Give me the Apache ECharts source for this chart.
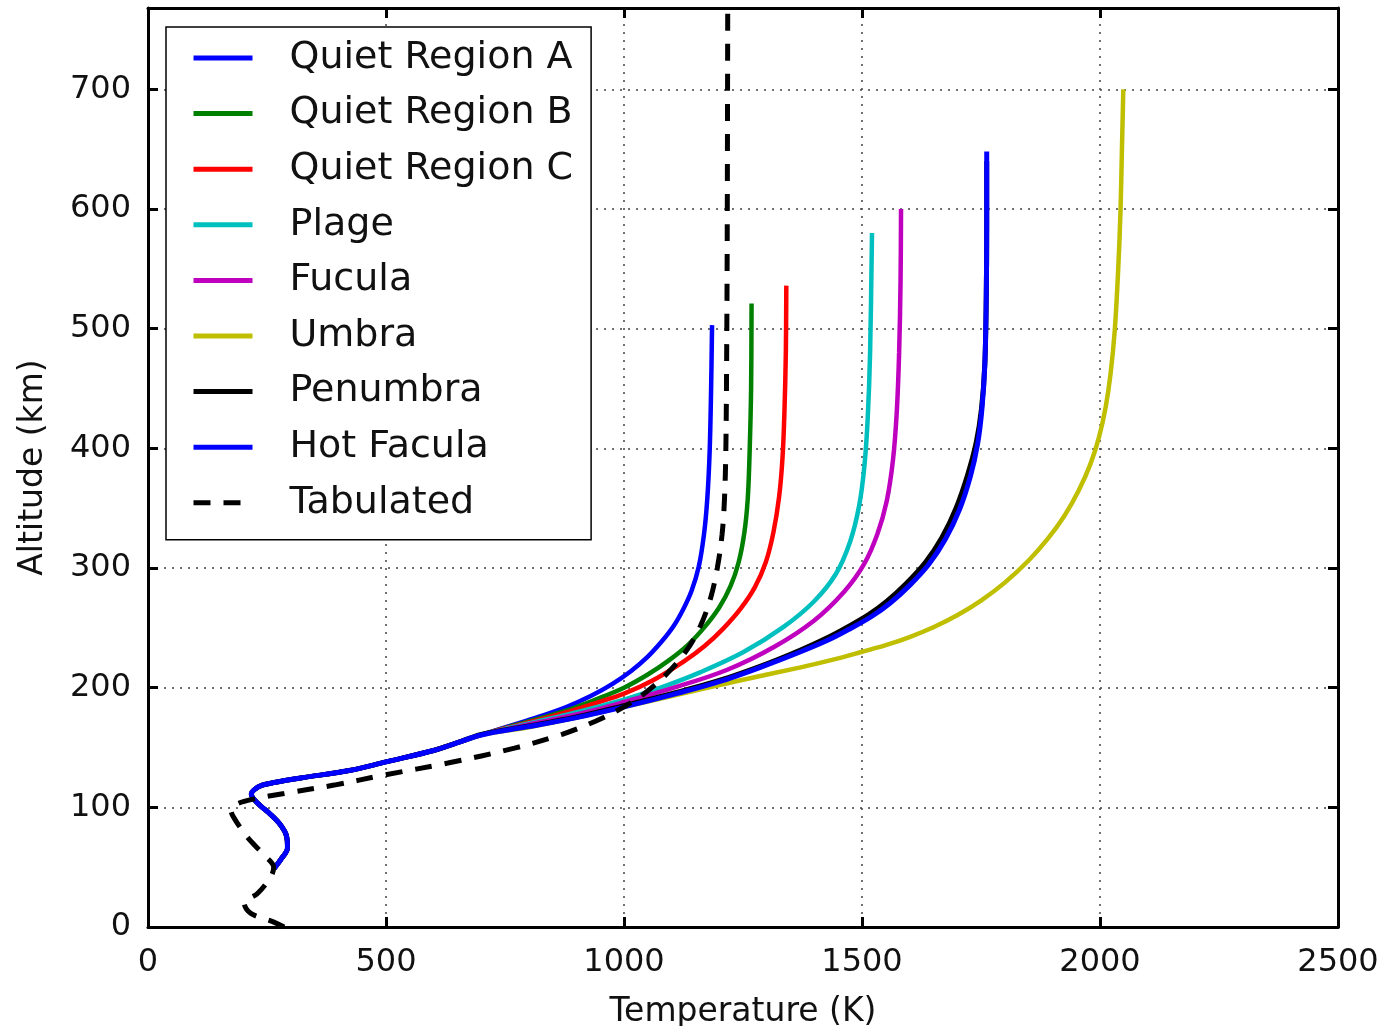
<!DOCTYPE html>
<html><head><meta charset="utf-8">
<script src="https://cdn.jsdelivr.net/npm/echarts@6/dist/echarts.min.js"></script>
<style>html,body{margin:0;padding:0;background:#fff}#c{width:1384px;height:1026px}</style>
</head><body><div id="c"></div>
<script>
// Series names (legend order)
const seriesNames = ['Quiet Region A','Quiet Region B','Quiet Region C','Plage','Fucula','Umbra','Penumbra','Hot Facula','Tabulated'];

// Shared lower part of all model profiles [Temperature K, Altitude km]
const baseProfile = [[265,49],[280,57],[293,66],[291,76],[277,86],[255,95],[237,101],[222,107],[217,111],[224,115],[240,118.5],[262,120.5],[321,124.5],[426,131],[500,138],[600,147.5],[650,154]];

const quietA = [[700,160.5],[760,168],[820,175.5],[880,184],[930,193],[975,203],[1015,214],[1050,226],[1080,239],[1105,252],[1125,266],[1142,281],[1157,301],[1168,328],[1175,358],[1180,398],[1183,450],[1185,503]];
const quietB = [[700,160.5],[760,167.5],[820,174],[880,181],[940,190],[1000,200],[1050,211],[1095,223],[1135,236],[1170,251],[1200,267],[1224,285],[1241,305],[1253,330],[1260,358],[1264,398],[1267,450],[1268,521]];
const quietC = [[700,160.5],[760,167],[820,173],[880,179.5],[940,187],[1000,195],[1060,206],[1126,222],[1170,235],[1210,250],[1245,266],[1275,284],[1298,305],[1314,330],[1326,360],[1333,392],[1337,430],[1340,480],[1341,536]];
const plage = [[700,160.5],[760,166.5],[820,172],[880,177.5],[940,183.5],[1000,190],[1077,200],[1161,213],[1252,230],[1336,251],[1399,272],[1445,295],[1475,322],[1494,352],[1505,385],[1512,425],[1517,480],[1521,580]];
const fucula = [[700,160.5],[760,166],[820,171],[880,176],[940,181.5],[1000,188],[1105,200],[1217,215],[1315,234],[1399,256],[1462,280],[1504,303],[1532,328],[1552,356],[1565,390],[1573,430],[1578,480],[1581,540],[1582,600]];
const umbra = [[700,160.5],[800,167],[900,175],[1000,184],[1100,193],[1231,205],[1371,217],[1450,224.5],[1500,230],[1550,235.5],[1600,242.3],[1650,250.5],[1700,260.5],[1750,272.8],[1800,287.8],[1850,306.3],[1890,324.3],[1925,343.5],[1955,364.5],[1980,387],[1998,409.5],[2012,434.7],[2022,461.7],[2031,498.6],[2038,547.6],[2043,597.6],[2046,648.6],[2049,700]];
const penumbra = [[700,161],[800,168],[900,175.5],[1000,185],[1100,195],[1200,206],[1300,220],[1371,231.5],[1426,241.5],[1471,251],[1514,261],[1553,272.5],[1593,287],[1633,304.5],[1668,325.5],[1698,350.5],[1722,378],[1740,405],[1751,433],[1758,470],[1761,525],[1762,590],[1762,640]];
const hotFacula = [[700,160.5],[800,167.5],[900,175],[1000,184],[1100,194],[1200,205],[1300,219],[1371,230],[1430,240],[1476,249.5],[1520,259.5],[1560,271],[1600,285.5],[1640,303],[1675,324],[1705,349],[1728,377],[1743,404],[1752,433],[1758,470],[1761,525],[1762,590],[1762,648]];
const tabulated = [[286,0],[262,4.5],[216,11.4],[202,20],[230,28],[258,42],[264,50],[244,60],[209,75],[181,91],[174,98],[188,103],[223,107],[286,111.6],[391,118.6],[496,127],[630,137],[770,149.5],[870,161],[940,172],[1000,184],[1042,195],[1091,212],[1133,232],[1161,252],[1182,275],[1196,300],[1206,328],[1211,357],[1214,400],[1216,500],[1217,600],[1218,790]];

const profiles = [quietA, quietB, quietC, plage, fucula, umbra, penumbra, hotFacula];
const colors = ['#0000ff','#008000','#ff0000','#00bfbf','#bf00bf','#bfbf00','#000000','#0000ff','#000000'];
const widths = [4.5,4.5,4.5,4.5,4.5,4.5,5,5,5];

const FONT = 'DejaVu Sans';
const chart = echarts.init(document.getElementById('c'), null, {renderer:'canvas'});

const series = seriesNames.map((name, i) => {
  const data = i < 8 ? baseProfile.concat(profiles[i]) : tabulated;
  return {
    name, type:'line', data, smooth:0.35, symbol:'none', showSymbol:false,
    lineStyle:{color:colors[i], width:widths[i], type: i===8 ? [17,13] : 'solid', cap:'butt'},
    itemStyle:{color:colors[i]},
    emphasis:{disabled:true},
    xAxisIndex:0, yAxisIndex:0, z: 3 + i, clip:true
  };
});

const gridLine = {show:true, lineStyle:{color:'#444', width:1.5, type:[2,6]}};
const axisLineS = {show:true, onZero:false, lineStyle:{color:'#000', width:3}};
const tickS = {show:true, inside:true, length:10, lineStyle:{color:'#000', width:3}};

chart.setOption({
  animation:false,
  backgroundColor:'#fff',
  grid:{left:148, right:46, top:8, bottom:99, show:false, containLabel:false, outerBoundsMode:'none'},
  legend:{
    show:true, data:seriesNames, orient:'vertical', left:166, top:27,
    itemWidth:59, itemHeight:20, itemGap:15.6,
    padding:[11,18,17,25],
    backgroundColor:'#fff', borderColor:'#000', borderWidth:1.5,
    itemStyle:{opacity:0, borderWidth:0},
    lineStyle:{width:5},
    textStyle:{fontFamily:FONT, fontSize:38, color:'#111', lineHeight:40, padding:[0,0,0,32]},
    inactiveColor:'#ccc'
  },
  xAxis:[
    {type:'value', min:0, max:2500, interval:500, position:'bottom',
     name:'Temperature (K)', nameLocation:'middle', nameGap:69,
     nameTextStyle:{fontFamily:FONT, fontSize:33, color:'#111'},
     axisLine:axisLineS, axisTick:tickS, splitLine:gridLine,
     axisLabel:{fontFamily:FONT, fontSize:32, color:'#111', margin:20, formatter: v => String(v)}},
    {type:'value', min:0, max:2500, interval:500, position:'top',
     axisLine:axisLineS, axisTick:tickS, splitLine:{show:false}, axisLabel:{show:false}}
  ],
  yAxis:[
    {type:'value', min:0, max:768, interval:100, position:'left',
     name:'Altitude (km)', nameLocation:'middle', nameGap:98, nameRotate:90,
     nameTextStyle:{fontFamily:FONT, fontSize:33, color:'#111'},
     axisLine:axisLineS, axisTick:tickS, splitLine:gridLine,
     axisLabel:{fontFamily:FONT, fontSize:32, color:'#111', margin:17, showMaxLabel:false,
       formatter: v => (v % 100 === 0 ? String(v) : '')}},
    {type:'value', min:0, max:768, interval:100, position:'right',
     axisLine:axisLineS, axisTick:tickS, splitLine:{show:false}, axisLabel:{show:false}}
  ],
  series
});
</script></body></html>
